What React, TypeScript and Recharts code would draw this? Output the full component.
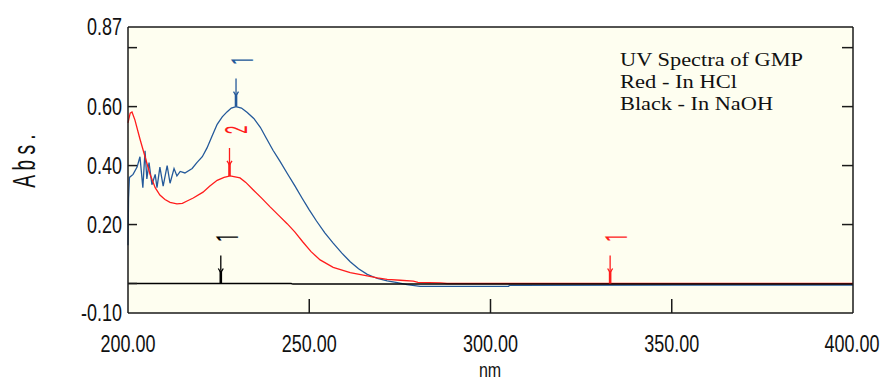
import { ComposedChart, Line, Scatter, XAxis, YAxis, CartesianGrid } from "recharts";

// red - in HCl
const hclNm = [
  200.0, 200.6, 201.1, 201.9, 203.3, 204.7, 206.1, 207.5, 208.8, 210.2, 211.6, 213.5, 215.0,
  216.3, 218.0, 220.7, 222.5, 224.6, 226.5, 228.2, 230.9, 232.5, 234.5, 237.0, 239.2, 241.5,
  243.9, 246.0, 248.3, 250.5, 253.0, 256.6, 261.3, 266.0, 268.8, 271.5, 275.1, 278.7, 280.0,
  283.0, 286.2, 288.0, 300.0, 350.0, 400.0,
];
const hclAbs = [
  0.545, 0.578, 0.582, 0.555, 0.49, 0.43, 0.37, 0.325, 0.3, 0.285, 0.275, 0.27, 0.272, 0.28,
  0.29, 0.31, 0.33, 0.35, 0.36, 0.365, 0.358, 0.343, 0.318, 0.288, 0.26, 0.232, 0.203, 0.175,
  0.14, 0.108, 0.08, 0.055, 0.037, 0.026, 0.019, 0.014, 0.011, 0.008, 0.004, 0.003, 0.002,
  0.0, 0.0, 0.0, 0.0,
];

// blue scan
const scanNm = [
  200.0, 200.15, 200.4, 201.4, 202.5, 203.3, 204.1, 204.7, 205.2, 205.8, 206.6, 207.5, 208.0,
  208.8, 209.7, 210.8, 211.6, 212.7, 213.5, 214.4, 215.7, 217.7, 219.0, 220.5, 221.8, 223.2,
  224.6, 226.0, 227.3, 228.5, 229.8, 231.3, 232.9, 234.7, 236.5, 238.2, 240.0, 241.9, 243.9,
  246.0, 248.0, 250.0, 252.0, 254.3, 256.6, 259.0, 261.3, 263.6, 266.0, 268.8, 271.5, 274.3,
  277.0, 280.6, 295.0, 305.0, 305.2, 350.0, 400.0,
];
const scanAbs = [
  0.13, 0.29, 0.36, 0.37, 0.395, 0.43, 0.325, 0.45, 0.355, 0.41, 0.335, 0.37, 0.325, 0.395,
  0.33, 0.4, 0.34, 0.39, 0.365, 0.38, 0.375, 0.39, 0.41, 0.43, 0.46, 0.5, 0.54, 0.565, 0.582,
  0.595, 0.6, 0.595, 0.58, 0.56, 0.53, 0.492, 0.452, 0.415, 0.374, 0.332, 0.29, 0.25, 0.212,
  0.172, 0.137, 0.103, 0.074, 0.05, 0.031, 0.017, 0.009, 0.003, -0.004, -0.01, -0.01, -0.01,
  -0.006, -0.005, -0.005,
];

// black - in NaOH
const naohNm = [200, 245, 245.5, 400];
const naohAbs = [0.0, 0.0, -0.002, -0.002];

// peak pick arrows
const markerNm = [229.8, 228.0, 225.6, 333.0];
const markerAbs = [0.6, 0.365, 0.0, 0.0];
const markerText = ["1", "2", "1", "1"];
const markerSeries = ["scan", "hcl", "naoh", "hcl"];

const xTicks = [200, 250, 300, 350, 400];
const yTicks = [-0.1, 0, 0.2, 0.4, 0.6, 0.8, 0.87];
const topTicks = [250, 300, 350];
const rightTicks = [0.2, 0.4, 0.6, 0.8];

const COLORS: Record<string, string> = {
  scan: "#24599a",
  hcl: "#ff1c1c",
  naoh: "#000000",
};

const W = 882;
const H = 381;
const MARGIN = { top: 26, right: 28, bottom: 28, left: 58 };
const Y_W = 70;
const X_H = 40;
const PLOT = {
  left: MARGIN.left + Y_W,
  right: W - MARGIN.right - 1,
  top: MARGIN.top + 1,
  bottom: H - MARGIN.bottom - X_H,
};
const AX = "#1a1a1a";
const SANS = "'Liberation Sans', Arial, sans-serif";
const MARK_FONT = "Roboto, 'Liberation Sans', Arial, sans-serif";
const SERIF = "'Liberation Serif', 'Times New Roman', serif";

const toPoints = (nm: number[], abs: number[]) => nm.map((x, i) => ({ nm: x, abs: abs[i] }));

const hclData = toPoints(hclNm, hclAbs);
const scanData = toPoints(scanNm, scanAbs);
const naohData = toPoints(naohNm, naohAbs);
const markerData = markerNm.map((x, i) => ({
  nm: x,
  abs: markerAbs[i],
  label: markerText[i],
  series: markerSeries[i],
}));

// axis numbers are drawn in a squeezed sans: ~10px per digit
const Y_FS = 23;
const X_FS = 24;
const ySqueeze = 10 / (0.556 * Y_FS);
const xSqueeze = 10 / (0.556 * X_FS);

function LeftTick(props: any) {
  const { y, payload } = props;
  const v = payload.value as number;
  const showLine = v > -0.05 && v < 0.85;
  const showText = v !== 0 && v !== 0.8;
  const label = v.toFixed(2);
  return (
    <g>
      {showLine && (
        <line x1={PLOT.left} x2={PLOT.left + 9} y1={y} y2={y} stroke={AX} strokeWidth={1.5} />
      )}
      {showText && (
        <text
          transform={`translate(${PLOT.left - 6},${y + 8}) scale(${ySqueeze},1)`}
          textAnchor="end"
          fontFamily={SANS}
          fontSize={Y_FS}
          fill="#111"
        >
          {label}
        </text>
      )}
    </g>
  );
}

function RightTick(props: any) {
  const { y } = props;
  return <line x1={PLOT.right} x2={PLOT.right - 11} y1={y} y2={y} stroke={AX} strokeWidth={1.5} />;
}

function BottomTick(props: any) {
  const { x, payload } = props;
  const v = payload.value as number;
  const label = v.toFixed(2);
  const inner = v > 200 && v < 400;
  // keep the last label inside the page
  const cx = Math.min(x, W - 30);
  return (
    <g>
      {inner && (
        <line x1={x} x2={x} y1={PLOT.bottom} y2={PLOT.bottom - 14} stroke={AX} strokeWidth={1.5} />
      )}
      <text
        transform={`translate(${cx},${PLOT.bottom + 39}) scale(${xSqueeze},1)`}
        textAnchor="middle"
        fontFamily={SANS}
        fontSize={X_FS}
        fill="#111"
      >
        {label}
      </text>
    </g>
  );
}

function TopTick(props: any) {
  const { x } = props;
  return <line x1={x} x2={x} y1={PLOT.top} y2={PLOT.top + 13} stroke={AX} strokeWidth={1.5} />;
}

function ArrowMark(props: any) {
  const { cx, cy, payload } = props;
  const c = COLORS[payload.series];
  const top = cy - 28;
  const fs = 31;
  const lx = cx + 6;
  const ly = top - 18;
  return (
    <g>
      <line x1={cx} x2={cx} y1={top} y2={cy - 13} stroke={c} strokeWidth={1.3} />
      <polyline
        points={`${cx - 2.5},${cy - 15} ${cx},${cy - 11} ${cx + 2.5},${cy - 15}`}
        fill="none"
        stroke={c}
        strokeWidth={1.3}
      />
      <line x1={cx} x2={cx} y1={cy - 13} y2={cy} stroke={c} strokeWidth={2.6} />
      <text
        transform={`translate(${lx},${ly}) rotate(-90) scale(0.48,1)`}
        x={0}
        y={fs * 0.358}
        textAnchor="middle"
        fontFamily={MARK_FONT}
        fontSize={fs}
        fill={c}
      >
        {payload.label}
      </text>
    </g>
  );
}

export default function App() {
  return (
    <div style={{ position: "absolute", left: 0, top: 0, width: W, height: H, background: "#fff" }}>
      <ComposedChart width={W} height={H} margin={MARGIN}>
        <CartesianGrid
          xAxisId="b"
          yAxisId="l"
          horizontal={false}
          vertical={false}
          fill="#fefef0"
          stroke="none"
        />
        <XAxis
          xAxisId="b"
          dataKey="nm"
          type="number"
          domain={[200, 400]}
          ticks={xTicks}
          interval={0}
          height={X_H}
          axisLine={{ stroke: AX, strokeWidth: 1.5 }}
          tickLine={false}
          tick={(p: any) => <BottomTick {...p} />}
        />
        <XAxis
          xAxisId="t"
          orientation="top"
          dataKey="nm"
          type="number"
          domain={[200, 400]}
          ticks={topTicks}
          interval={0}
          height={1}
          axisLine={{ stroke: AX, strokeWidth: 1.5 }}
          tickLine={false}
          tick={(p: any) => <TopTick {...p} />}
        />
        <YAxis
          yAxisId="l"
          dataKey="abs"
          type="number"
          domain={[-0.1, 0.87]}
          ticks={yTicks}
          interval={0}
          width={Y_W}
          allowDataOverflow
          axisLine={{ stroke: AX, strokeWidth: 1.5 }}
          tickLine={false}
          tick={(p: any) => <LeftTick {...p} />}
        />
        <YAxis
          yAxisId="r"
          orientation="right"
          type="number"
          domain={[-0.1, 0.87]}
          ticks={rightTicks}
          interval={0}
          width={1}
          allowDataOverflow
          axisLine={{ stroke: AX, strokeWidth: 1.5 }}
          tickLine={false}
          tick={(p: any) => <RightTick {...p} />}
        />
        <Line
          data={scanData}
          xAxisId="b"
          yAxisId="l"
          dataKey="abs"
          type="linear"
          stroke={COLORS.scan}
          strokeWidth={1.3}
          dot={false}
          activeDot={false}
          isAnimationActive={false}
        />
        <Line
          data={hclData}
          xAxisId="b"
          yAxisId="l"
          dataKey="abs"
          type="linear"
          stroke={COLORS.hcl}
          strokeWidth={1.3}
          dot={false}
          activeDot={false}
          isAnimationActive={false}
        />
        <Line
          data={naohData}
          xAxisId="b"
          yAxisId="l"
          dataKey="abs"
          type="linear"
          stroke={COLORS.naoh}
          strokeWidth={1.5}
          dot={false}
          activeDot={false}
          isAnimationActive={false}
        />
        <Scatter
          data={markerData}
          xAxisId="b"
          yAxisId="l"
          dataKey="abs"
          shape={(p: any) => <ArrowMark {...p} />}
          isAnimationActive={false}
        />
      </ComposedChart>
      <svg
        width={W}
        height={H}
        style={{ position: "absolute", left: 0, top: 0, pointerEvents: "none" }}
      >
        <text
          transform="translate(35,161) rotate(-90) scale(0.6,1)"
          textAnchor="middle"
          fontFamily={SANS}
          fontSize={32}
          fill="#111"
        >
          A b s .
        </text>
        <text
          transform="translate(490,377) scale(0.8,1)"
          textAnchor="middle"
          fontFamily={SANS}
          fontSize={20}
          fill="#111"
        >
          nm
        </text>
        <g fontFamily={SERIF} fontSize={18} fill="#111">
          <text x={620} y={66} textLength={183} lengthAdjust="spacingAndGlyphs">
            UV Spectra of GMP
          </text>
          <text x={620} y={88} textLength={117} lengthAdjust="spacingAndGlyphs">
            Red - In HCl
          </text>
          <text x={620} y={110} textLength={153} lengthAdjust="spacingAndGlyphs">
            Black - In NaOH
          </text>
        </g>
      </svg>
    </div>
  );
}
